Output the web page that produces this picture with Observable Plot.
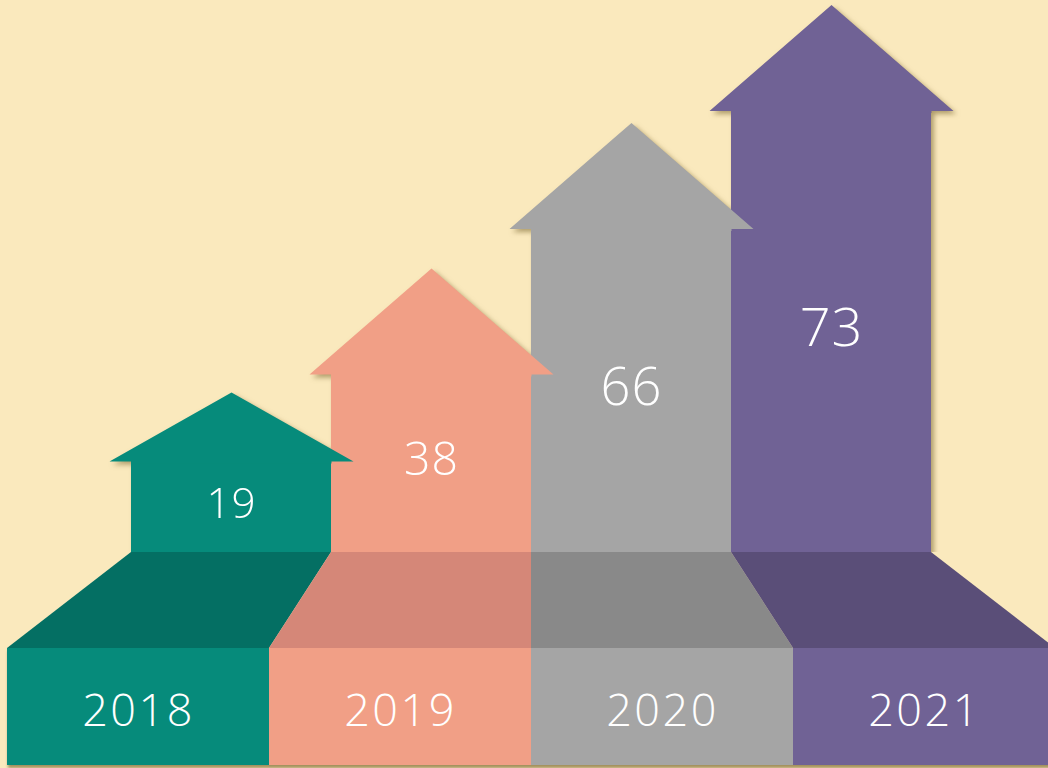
<!DOCTYPE html>
<html>
<head>
<meta charset="utf-8">
<script src="https://cdn.jsdelivr.net/npm/d3@7"></script>
<script src="https://cdn.jsdelivr.net/npm/@observablehq/plot@0.6"></script>
<style>
  html, body { margin: 0; padding: 0; background: #FAE9BD; overflow: hidden; }
  #chart svg { display: block; overflow: hidden; }
</style>
</head>
<body>
<div id="chart"></div>
<script>
// ---- data ----
const years = ["2018", "2019", "2020", "2021"];
const values = [19, 38, 66, 73];

// ---- styles ----
const palette = { "2018": "#068B7B", "2019": "#F19F86", "2020": "#A5A5A5", "2021": "#706295" };
const plateColor = { "2018": "#046F63", "2019": "#D58778", "2020": "#898989", "2021": "#5A4E78" };
const FONT = "'Open Sans', 'DejaVu Sans', sans-serif";

const rows = years.map((year, i) => ({ year, i, value: values[i] }));
const drawOrder = rows.slice().reverse(); // earlier arrows on top

// value -> shaft-top level (infographic, piecewise scale)
const yDomain = [0, ...values];
const yRange = [552, 461, 374, 228.5, 110.5];
const yMap = d3.scaleLinear(yDomain, yRange);

// arrow heads as custom symbols (pixel shapes)
function head(h) {
  return {
    draw(ctx) {
      ctx.moveTo(-100, 2);
      ctx.lineTo(-100, 0);
      ctx.lineTo(-122, 0);
      ctx.lineTo(0, -h);
      ctx.lineTo(122, 0);
      ctx.lineTo(100, 0);
      ctx.lineTo(100, 2);
      ctx.closePath();
    }
  };
}

const xDomain = [-0.655, 4.585];

const arrows = Plot.plot({
  width: 1048,
  height: 552,
  margin: 0,
  x: { domain: xDomain, axis: null },
  y: { type: "linear", domain: yDomain, range: yRange, axis: null },
  style: { background: "transparent", fontFamily: FONT, letterSpacing: "1px", fontWeight: 300 },
  marks: [
    Plot.rect(drawOrder, {
      x1: d => d.i, x2: d => d.i + 1,
      y1: () => 0, y2: "value",
      fill: d => palette[d.year]
    }),
    Plot.dot(drawOrder.filter(d => d.year !== "2018"), {
      x: d => d.i + 0.5, y: "value",
      symbol: head(106), fill: d => palette[d.year]
    }),
    Plot.dot(drawOrder.filter(d => d.year === "2018"), {
      x: d => d.i + 0.5, y: "value",
      symbol: head(69), fill: d => palette[d.year]
    }),
    Plot.text(rows, {
      x: d => d.i + 0.5,
      y: d => yMap.invert((yMap(0) + yMap(d.value)) / 2),
      text: d => String(d.value),
      fill: "white",
      fontSize: d => 38 + d.value * 0.22,
      dy: -3
    })
  ]
});

// wrap shapes (not labels) in a drop-shadow group
(function wrapShadow(svg, selector, filter) {
  const gs = svg.querySelectorAll(selector);
  if (!gs.length) return;
  const wrap = document.createElementNS("http://www.w3.org/2000/svg", "g");
  wrap.setAttribute("style", "filter: " + filter);
  gs[0].parentNode.insertBefore(wrap, gs[0]);
  gs.forEach(g => wrap.appendChild(g));
})(arrows, ':scope > g[aria-label="rect"], :scope > g[aria-label="dot"]',
   "drop-shadow(3px 3px 2.5px rgba(115, 95, 40, 0.55))");

// ---- base (perspective plate + front band) ----
const k = 1.31, vp = 2;
const persp = u => vp + (u - vp) * k;
const plateRows = rows.flatMap(d => [
  { year: d.year, lvl: 2, x1: d.i, x2: d.i + 1 },
  { year: d.year, lvl: 1, x1: persp(d.i), x2: persp(d.i + 1) }
]);

const base = Plot.plot({
  width: 1048,
  height: 216,
  margin: 0,
  x: { domain: xDomain, axis: null },
  y: { type: "linear", domain: [0, 1, 2], range: [213, 96, 0], axis: null },
  color: { type: "identity" },
  style: { background: "transparent", fontFamily: FONT, letterSpacing: "2.5px", fontWeight: 300 },
  marks: [
    Plot.areaX(plateRows, {
      y: "lvl", x1: "x1", x2: "x2", z: "year",
      fill: d => plateColor[d.year]
    }),
    Plot.rect(rows, {
      x1: d => persp(d.i), x2: d => persp(d.i + 1),
      y1: () => 0, y2: () => 1,
      fill: d => palette[d.year]
    }),
    Plot.text(rows, {
      x: d => persp(d.i + 0.5), y: () => 0.5,
      text: "year", fill: "white", fontSize: 45, dy: 5
    })
  ]
});

(function (svg) {
  const g = svg.querySelector(':scope > g[aria-label="rect"]');
  if (g) g.setAttribute("style", "filter: drop-shadow(1px 3px 1.5px rgba(115, 95, 40, 0.65))");
})(base);

const chart = document.getElementById("chart");
chart.appendChild(arrows);
chart.appendChild(base);
</script>
</body>
</html>
